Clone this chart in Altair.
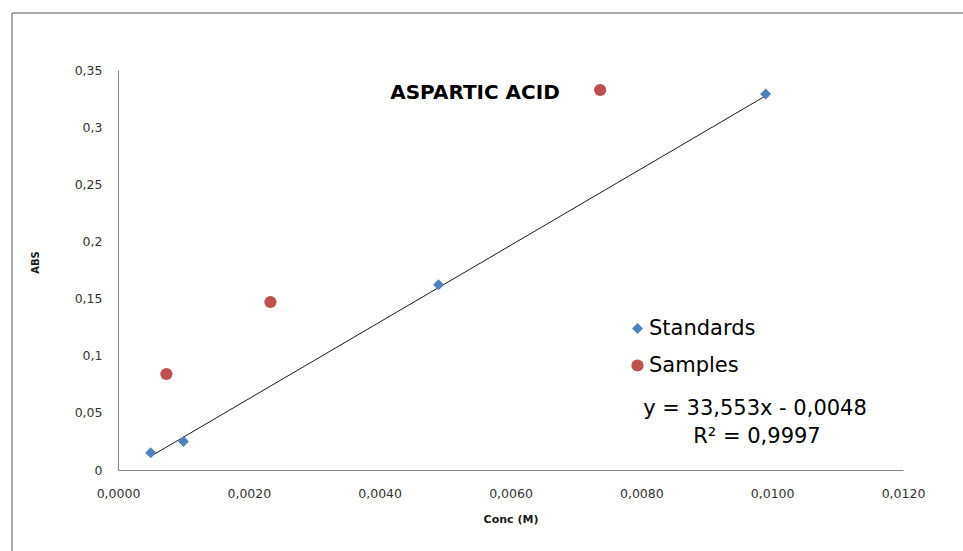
import altair as alt
import pandas as pd

# Calibration standards: concentration (M) and absorbance
std_conc = [0.0005, 0.0010, 0.0049, 0.0099]
std_abs = [0.015, 0.025, 0.162, 0.329]

# Unknown samples
smp_conc = [0.00074, 0.00233, 0.00737]
smp_abs = [0.084, 0.147, 0.3325]

# Linear trendline from the standards
slope = 33.553
intercept = -0.0048
r_squared = 0.9997

series_names = ["Standards", "Samples"]
series_colors = ["#4F81BD", "#C0504D"]
series_shapes = ["diamond", "circle"]
series_sizes = [121, 150]

x_ticks = [0.0, 0.002, 0.004, 0.006, 0.008, 0.010, 0.012]
y_ticks = [0.0, 0.05, 0.10, 0.15, 0.20, 0.25, 0.30, 0.35]

title_text = "ASPARTIC ACID"
eq_text = "y = 33,553x - 0,0048"
r2_text = "R² = 0,9997"

FONT = "DejaVu Sans"
GRAY = "#868686"

points = pd.DataFrame({
    "conc": std_conc + smp_conc,
    "abs": std_abs + smp_abs,
    "series": ["Standards"] * len(std_conc) + ["Samples"] * len(smp_conc),
})

fit_x = [min(std_conc), max(std_conc)]
trend = pd.DataFrame({"conc": fit_x, "abs": [slope * v + intercept for v in fit_x]})

x_enc = alt.X(
    "conc:Q",
    scale=alt.Scale(domain=[0, 0.012], nice=False, zero=True),
    axis=alt.Axis(
        title="Conc (M)", values=x_ticks, grid=False, ticks=False, labelFlush=False,
        domainColor=GRAY, labelColor="#333333", labelFont=FONT, labelFontSize=12.5,
        labelPadding=17, titleFont=FONT, titleFontSize=11, titleFontWeight="bold",
        titleColor="#1a1a1a", titlePadding=14,
        labelExpr="replace(format(datum.value, '.4f'), '.', ',')",
    ),
)
y_enc = alt.Y(
    "abs:Q",
    scale=alt.Scale(domain=[0, 0.35], nice=False),
    axis=alt.Axis(
        title="ABS", values=y_ticks, grid=False, ticks=False, labelFlush=False,
        domainColor=GRAY, labelColor="#333333", labelFont=FONT, labelFontSize=12.5,
        labelPadding=16, titleFont=FONT, titleFontSize=10, titleFontWeight="bold",
        titleColor="#1a1a1a", titleX=-83, titleY=192, titleAngle=270,
        titleAlign="center", titleBaseline="middle",
        labelExpr="replace(format(datum.value, '.2~f'), '.', ',')",
    ),
)

trend_line = alt.Chart(trend).mark_line(color="#1a1a1a", strokeWidth=1).encode(x=x_enc, y=y_enc)

scatter = alt.Chart(points).mark_point(filled=True, opacity=1).encode(
    x=x_enc,
    y=y_enc,
    color=alt.Color("series:N", scale=alt.Scale(domain=series_names, range=series_colors),
                    legend=alt.Legend(title=None)),
    shape=alt.Shape("series:N", scale=alt.Scale(domain=series_names, range=series_shapes),
                    legend=alt.Legend(title=None)),
    size=alt.Size("series:N", scale=alt.Scale(domain=series_names, range=series_sizes),
                  legend=None),
)

one = pd.DataFrame({"k": [0]})

title_mark = alt.Chart(one).mark_text(
    text=title_text, font=FONT, fontSize=20, fontWeight="bold", color="#000000",
    align="center", baseline="alphabetic",
).encode(x=alt.value(357), y=alt.value(29))

eq_mark = alt.Chart(one).mark_text(
    text=eq_text, font=FONT, fontSize=21, color="#000000", align="center", baseline="alphabetic",
).encode(x=alt.value(637), y=alt.value(345))

r2_mark = alt.Chart(one).mark_text(
    text=r2_text, font=FONT, fontSize=21, color="#000000", align="center", baseline="alphabetic",
).encode(x=alt.value(639), y=alt.value(373))

# Outer chart frame (top and left edges)
frame_top = alt.Chart(one).mark_rule(color="#8c8c8c", strokeWidth=1.5).encode(
    x=alt.value(-106), x2=alt.value(845), y=alt.value(-57))
frame_left = alt.Chart(one).mark_rule(color="#8c8c8c", strokeWidth=1.5).encode(
    x=alt.value(-106), y=alt.value(-57), y2=alt.value(481))

chart = alt.layer(
    frame_top, frame_left, trend_line, scatter, title_mark, eq_mark, r2_mark
).resolve_scale(
    x="shared", y="shared"
).properties(
    width=785, height=400,
    autosize=alt.AutoSizeParams(type="none"),
    padding={"left": 118, "top": 70, "right": 60, "bottom": 81},
    background="white",
).configure_view(
    stroke=None
).configure_legend(
    orient="none", legendX=509, legendY=248,
    labelFont=FONT, labelFontSize=21, labelColor="#000000",
    symbolSize=110, symbolStrokeWidth=0, rowPadding=15, labelOffset=1,
)

chart.save("out.html", embed_options={"renderer": "svg", "actions": False})
